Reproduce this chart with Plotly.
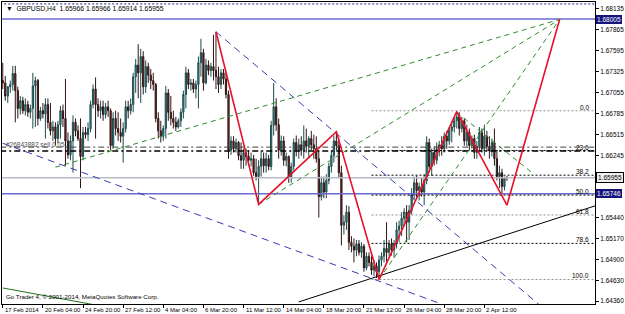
import plotly.graph_objects as go

# ---------------- data ----------------
bars = list(range(202))

opens = [
 1.6721, 1.6718, 1.6701, 1.6713, 1.6716, 1.6730, 1.6708, 1.6685, 1.6695, 1.6682,
 1.6690, 1.6680, 1.6685, 1.6714, 1.6721, 1.6672, 1.6682, 1.6678, 1.6690, 1.6667,
 1.6656, 1.6661, 1.6646, 1.6664, 1.6682, 1.6672, 1.6643, 1.6625, 1.6643, 1.6667,
 1.6656, 1.6646, 1.6623, 1.6654, 1.6651, 1.6659, 1.6690, 1.6710, 1.6690, 1.6682,
 1.6687, 1.6677, 1.6687, 1.6682, 1.6637, 1.6672, 1.6659, 1.6654, 1.6649, 1.6659,
 1.6687, 1.6682, 1.6690, 1.6726, 1.6741, 1.6731, 1.6752, 1.6713, 1.6739, 1.6728,
 1.6721, 1.6716, 1.6672, 1.6656, 1.6649, 1.6659, 1.6705, 1.6680, 1.6672, 1.6667,
 1.6661, 1.6669, 1.6680, 1.6703, 1.6731, 1.6716, 1.6718, 1.6710, 1.6716, 1.6744,
 1.6757, 1.6718, 1.6741, 1.6734, 1.6739, 1.6734, 1.6726, 1.6716, 1.6731, 1.6723,
 1.6703, 1.6631, 1.6643, 1.6633, 1.6641, 1.6624, 1.6618, 1.6628, 1.6623, 1.6618,
 1.6620, 1.6602, 1.6597, 1.6610, 1.6620, 1.6611, 1.6620, 1.6610, 1.6663, 1.6687,
 1.6664, 1.6631, 1.6643, 1.6618, 1.6623, 1.6597, 1.6610, 1.6641, 1.6631, 1.6638,
 1.6631, 1.6643, 1.6636, 1.6646, 1.6638, 1.6633, 1.6620, 1.6571, 1.6589, 1.6577,
 1.6592, 1.6610, 1.6624, 1.6643, 1.6637, 1.6602, 1.6534, 1.6538, 1.6551, 1.6512,
 1.6507, 1.6502, 1.6510, 1.6499, 1.6507, 1.6479, 1.6494, 1.6486, 1.6476, 1.6481,
 1.6474, 1.6489, 1.6494, 1.6504, 1.6499, 1.6510, 1.6502, 1.6510, 1.6528, 1.6533,
 1.6543, 1.6551, 1.6538, 1.6553, 1.6574, 1.6589, 1.6579, 1.6584, 1.6577, 1.6592,
 1.6641, 1.6610, 1.6628, 1.6618, 1.6633, 1.6638, 1.6633, 1.6649, 1.6643, 1.6656,
 1.6661, 1.6669, 1.6674, 1.6659, 1.6669, 1.6643, 1.6654, 1.6637, 1.6646, 1.6628,
 1.6636, 1.6654, 1.6633, 1.6649, 1.6636, 1.6631, 1.6641, 1.6620, 1.6597, 1.6602,
 1.6584, 1.65966]

highs = [
 1.6744, 1.6727, 1.6714, 1.6721, 1.6740, 1.6740, 1.6713, 1.6701, 1.6700, 1.6698,
 1.6695, 1.6690, 1.6731, 1.6726, 1.6723, 1.6687, 1.6692, 1.6698, 1.6698, 1.6692,
 1.6669, 1.6667, 1.6669, 1.6688, 1.6690, 1.6723, 1.6654, 1.6650, 1.6676, 1.6672,
 1.6663, 1.6672, 1.6661, 1.6661, 1.6667, 1.6695, 1.6716, 1.6725, 1.6698, 1.6695,
 1.6695, 1.6692, 1.6695, 1.6685, 1.6680, 1.6682, 1.6680, 1.6672, 1.6667, 1.6695,
 1.6695, 1.6698, 1.6731, 1.6749, 1.6768, 1.6762, 1.6759, 1.6747, 1.6744, 1.6736,
 1.6731, 1.6718, 1.6680, 1.6669, 1.6663, 1.6714, 1.6710, 1.6701, 1.6682, 1.6674,
 1.6672, 1.6685, 1.6708, 1.6739, 1.6736, 1.6723, 1.6723, 1.6721, 1.6752, 1.6775,
 1.6762, 1.6749, 1.6747, 1.6744, 1.6780, 1.6784, 1.6739, 1.6736, 1.6736, 1.6731,
 1.6708, 1.6649, 1.6649, 1.6646, 1.6643, 1.6641, 1.6633, 1.6633, 1.6631, 1.6628,
 1.6625, 1.6620, 1.6618, 1.6631, 1.6628, 1.6628, 1.6625, 1.6669, 1.6718, 1.6698,
 1.6672, 1.6650, 1.6649, 1.6628, 1.6624, 1.6615, 1.6646, 1.6650, 1.6646, 1.6649,
 1.6663, 1.6659, 1.6649, 1.6656, 1.6651, 1.6649, 1.6631, 1.6597, 1.6597, 1.6600,
 1.6615, 1.6631, 1.6650, 1.6655, 1.6646, 1.6611, 1.6547, 1.6560, 1.6559, 1.6520,
 1.6517, 1.6515, 1.6515, 1.6512, 1.6510, 1.6499, 1.6499, 1.6494, 1.6489, 1.6486,
 1.6495, 1.6499, 1.6515, 1.6538, 1.6515, 1.6517, 1.6515, 1.6538, 1.6540, 1.6551,
 1.6556, 1.6560, 1.6560, 1.6582, 1.6597, 1.6598, 1.6589, 1.6595, 1.6600, 1.6649,
 1.6646, 1.6633, 1.6636, 1.6641, 1.6643, 1.6649, 1.6654, 1.6656, 1.6661, 1.6669,
 1.6674, 1.6681, 1.6680, 1.6674, 1.6672, 1.6664, 1.6659, 1.6650, 1.6651, 1.6643,
 1.6661, 1.6659, 1.6664, 1.6656, 1.6649, 1.6646, 1.6659, 1.6631, 1.6611, 1.6607,
 1.6597, 1.65966]

lows = [
 1.6710, 1.6695, 1.6692, 1.6705, 1.6708, 1.6667, 1.6672, 1.6677, 1.6678, 1.6676,
 1.6674, 1.6672, 1.6659, 1.6661, 1.6663, 1.6669, 1.6672, 1.6646, 1.6659, 1.6650,
 1.6643, 1.6637, 1.6640, 1.6646, 1.6661, 1.6611, 1.6620, 1.6618, 1.6602, 1.6649,
 1.6643, 1.6582, 1.6618, 1.6646, 1.6643, 1.6654, 1.6685, 1.6646, 1.6674, 1.6672,
 1.6669, 1.6672, 1.6674, 1.6631, 1.6633, 1.6650, 1.6643, 1.6641, 1.6615, 1.6654,
 1.6672, 1.6677, 1.6680, 1.6705, 1.6698, 1.6692, 1.6703, 1.6705, 1.6718, 1.6710,
 1.6708, 1.6667, 1.6646, 1.6641, 1.6643, 1.6646, 1.6669, 1.6663, 1.6659, 1.6656,
 1.6659, 1.6661, 1.6672, 1.6685, 1.6710, 1.6708, 1.6705, 1.6698, 1.6685, 1.6726,
 1.6708, 1.6716, 1.6728, 1.6726, 1.6721, 1.6710, 1.6705, 1.6710, 1.6716, 1.6698,
 1.6620, 1.6625, 1.6628, 1.6628, 1.6618, 1.6607, 1.6607, 1.6611, 1.6611, 1.6610,
 1.6598, 1.6592, 1.6561, 1.6597, 1.6602, 1.6602, 1.6605, 1.6605, 1.6650, 1.6656,
 1.6620, 1.6624, 1.6611, 1.6610, 1.6589, 1.6589, 1.6605, 1.6623, 1.6620, 1.6624,
 1.6620, 1.6628, 1.6620, 1.6631, 1.6620, 1.6615, 1.6544, 1.6566, 1.6569, 1.6569,
 1.6587, 1.6602, 1.6615, 1.6631, 1.6595, 1.6508, 1.6522, 1.6528, 1.6502, 1.6499,
 1.6486, 1.6494, 1.6495, 1.6492, 1.6474, 1.6476, 1.6481, 1.6470, 1.6468, 1.6466,
 1.6464, 1.6481, 1.6486, 1.6486, 1.6494, 1.6495, 1.6492, 1.6504, 1.6512, 1.6520,
 1.6533, 1.6512, 1.6515, 1.6548, 1.6566, 1.6569, 1.6566, 1.6571, 1.6560, 1.6587,
 1.6602, 1.6598, 1.6611, 1.6613, 1.6623, 1.6624, 1.6628, 1.6633, 1.6638, 1.6641,
 1.6654, 1.6659, 1.6650, 1.6654, 1.6637, 1.6636, 1.6631, 1.6633, 1.6620, 1.6620,
 1.6631, 1.6628, 1.6624, 1.6631, 1.6620, 1.6623, 1.6611, 1.6592, 1.6582, 1.6575,
 1.6579, 1.65914]

closes = [
 1.6718, 1.6701, 1.6713, 1.6716, 1.6730, 1.6708, 1.6685, 1.6695, 1.6682, 1.6690,
 1.6680, 1.6685, 1.6714, 1.6721, 1.6672, 1.6682, 1.6678, 1.6690, 1.6667, 1.6656,
 1.6661, 1.6646, 1.6664, 1.6682, 1.6672, 1.6643, 1.6625, 1.6643, 1.6667, 1.6656,
 1.6646, 1.6623, 1.6654, 1.6651, 1.6659, 1.6690, 1.6710, 1.6690, 1.6682, 1.6687,
 1.6677, 1.6687, 1.6682, 1.6637, 1.6672, 1.6659, 1.6654, 1.6649, 1.6659, 1.6687,
 1.6682, 1.6690, 1.6726, 1.6741, 1.6731, 1.6752, 1.6713, 1.6739, 1.6728, 1.6721,
 1.6716, 1.6672, 1.6656, 1.6649, 1.6659, 1.6705, 1.6680, 1.6672, 1.6667, 1.6661,
 1.6669, 1.6680, 1.6703, 1.6731, 1.6716, 1.6718, 1.6710, 1.6716, 1.6744, 1.6757,
 1.6718, 1.6741, 1.6734, 1.6739, 1.6734, 1.6726, 1.6716, 1.6731, 1.6723, 1.6703,
 1.6631, 1.6643, 1.6633, 1.6641, 1.6624, 1.6618, 1.6628, 1.6623, 1.6618, 1.6620,
 1.6602, 1.6597, 1.6610, 1.6620, 1.6611, 1.6620, 1.6610, 1.6663, 1.6687, 1.6664,
 1.6631, 1.6643, 1.6618, 1.6623, 1.6597, 1.6610, 1.6641, 1.6631, 1.6638, 1.6631,
 1.6643, 1.6636, 1.6646, 1.6638, 1.6633, 1.6620, 1.6571, 1.6589, 1.6577, 1.6592,
 1.6610, 1.6624, 1.6643, 1.6637, 1.6602, 1.6534, 1.6538, 1.6551, 1.6512, 1.6507,
 1.6502, 1.6510, 1.6499, 1.6507, 1.6479, 1.6494, 1.6486, 1.6476, 1.6481, 1.6474,
 1.6489, 1.6494, 1.6504, 1.6499, 1.6510, 1.6502, 1.6510, 1.6528, 1.6533, 1.6543,
 1.6551, 1.6538, 1.6553, 1.6574, 1.6589, 1.6579, 1.6584, 1.6577, 1.6592, 1.6641,
 1.6610, 1.6628, 1.6618, 1.6633, 1.6638, 1.6633, 1.6649, 1.6643, 1.6656, 1.6661,
 1.6669, 1.6674, 1.6659, 1.6669, 1.6643, 1.6654, 1.6637, 1.6646, 1.6628, 1.6636,
 1.6654, 1.6633, 1.6649, 1.6636, 1.6631, 1.6641, 1.6620, 1.6597, 1.6602, 1.6584,
 1.6595, 1.65955]

tick_bars = [0, 16, 32, 48, 64, 80, 96, 112, 128, 144, 160, 176, 192]
tick_text = ["17 Feb 2014", "20 Feb 04:00", "24 Feb 20:00", "27 Feb 12:00",
             "4 Mar 04:00", "6 Mar 20:00", "11 Mar 12:00", "14 Mar 04:00",
             "18 Mar 20:00", "21 Mar 12:00", "26 Mar 04:00", "28 Mar 20:00",
             "2 Apr 12:00"]

price_ticks = [1.68135, 1.67865, 1.67595, 1.67325, 1.67055, 1.66785, 1.66515,
               1.66245, 1.65440, 1.65170, 1.64900, 1.64630, 1.64360]

# harmonic zigzag (bar, price)
zz_bars = [85, 102, 133, 150, 181, 201, 222]
zz_prices = [1.6784, 1.6561, 1.6655, 1.6464, 1.6681, 1.6560, 1.6800]

# trend lines: (bars, prices)
blue_line1 = ([85, 214], [1.6784, 1.6431])
blue_line2 = ([0, 176], [1.6640, 1.6431])
green_line1 = ([21, 222], [1.6609, 1.6800])
green_line2 = ([102, 222], [1.6561, 1.6800])
green_line3 = ([150, 222], [1.6464, 1.6800])
green_line4 = ([181, 211], [1.6680, 1.6602])
fib_diag = ([150, 181], [1.6464, 1.6682])
black_line = ([118, 237], [1.6435, 1.6560])
dkgreen_line = ([0, 37], [1.6453, 1.6431])

# horizontal levels
top_dotted = 1.6820
blue_level_hi = 1.68005
blue_level_lo = 1.65746
bid_level = 1.65955
order_level1 = 1.6635
order_level2 = 1.6630

fib_high = 1.6682
fib_low = 1.6464
fib_levels = [0.0, 23.6, 38.2, 50.0, 61.8, 78.6, 100.0]
fib_start = 147

# ---------------- figure ----------------
FONT = "Liberation Sans"
FS = 6.5
X_MAX = 236.1

fig = go.Figure()

fig.add_trace(go.Candlestick(
    x=bars, open=opens, high=highs, low=lows, close=closes,
    increasing=dict(line=dict(color="#1f4a4a", width=1), fillcolor="#2a9d9d"),
    decreasing=dict(line=dict(color="#301414", width=1), fillcolor="#7a2b2b"),
    whiskerwidth=0, hoverinfo="skip", showlegend=False))


def hline(price, color, dash, width=1, x0=-1, x1=X_MAX + 1):
    fig.add_trace(go.Scatter(x=[x0, x1], y=[price, price], mode="lines",
                             line=dict(color=color, width=width, dash=dash),
                             hoverinfo="skip", showlegend=False))


def seg(pts, color, dash, width=1):
    fig.add_trace(go.Scatter(x=pts[0], y=pts[1], mode="lines",
                             line=dict(color=color, width=width, dash=dash),
                             hoverinfo="skip", showlegend=False))


hline(top_dotted, "#1a1a80", "2px,2px")
hline(blue_level_hi, "#6a6ad0", "solid", 1.5)
hline(blue_level_lo, "#6a6ad0", "solid", 1.5)
hline(bid_level, "#b8bcc8", "solid", 1.5)
hline(order_level1, "#404040", "6px,3px,2px,3px", 1)
hline(order_level2, "#000000", "6px,3px,2px,3px", 1.5)

fib_colors = ["#909090", "#000000", "#000000", "#000000", "#909090", "#000000", "#909090"]
for lvl, col in zip(fib_levels, fib_colors):
    p = fib_high - (fib_high - fib_low) * lvl / 100.0
    hline(p, col, "2px,2px", 1, fib_start, X_MAX + 1)

seg(blue_line1, "#3a3ab0", "7px,5px")
seg(blue_line2, "#3a3ab0", "7px,5px")
seg(green_line1, "#2e8b2e", "5px,4px")
seg(green_line2, "#2e8b2e", "5px,4px")
seg(green_line3, "#2e8b2e", "5px,4px")
seg(green_line4, "#2e8b2e", "5px,4px")
seg(fib_diag, "#a8e040", "2px,2px")
seg(black_line, "#000000", "solid")
seg(dkgreen_line, "#207020", "solid")

fig.add_trace(go.Scatter(x=zz_bars, y=zz_prices, mode="lines",
                         line=dict(color="#e8102a", width=1.6),
                         hoverinfo="skip", showlegend=False))

annotations = []
# x-axis labels, left aligned at ticks like MT4
for b, t in zip(tick_bars, tick_text):
    annotations.append(dict(x=b, xref="x", y=0, yref="paper", yanchor="top",
                            xanchor="left", text=t, showarrow=False,
                            xshift=0, yshift=-1,
                            font=dict(family=FONT, size=6.0, color="#000000")))

# fib labels
for lvl in fib_levels:
    p = fib_high - (fib_high - fib_low) * lvl / 100.0
    annotations.append(dict(x=1, xref="paper", y=p, yref="y", xanchor="right",
                            yanchor="bottom", text=f"{lvl:.1f}", showarrow=False,
                            xshift=-4, yshift=-2,
                            font=dict(family=FONT, size=FS, color="#000000")))

# highlighted price labels on the axis
for p, bg, fg in [(blue_level_hi, "#14147a", "#ffffff"),
                  (blue_level_lo, "#14147a", "#ffffff"),
                  (bid_level, "#f0f0f0", "#000000")]:
    annotations.append(dict(x=1, xref="paper", y=p, yref="y", xanchor="left",
                            yanchor="middle", text=f"{p:.5f}", showarrow=False,
                            xshift=1, bgcolor=bg, bordercolor="#000000",
                            borderwidth=1 if bg == "#f0f0f0" else 0, borderpad=1,
                            font=dict(family=FONT, size=FS, color=fg)))

# header / info texts
annotations.append(dict(x=0.004, xref="paper", y=0.997, yref="paper",
                        xanchor="left", yanchor="top",
                        text="\u25bc  GBPUSD,H4  1.65966 1.65966 1.65914 1.65955",
                        showarrow=False,
                        font=dict(family=FONT, size=FS + 0.3, color="#000000")))
annotations.append(dict(x=0.004, xref="paper", y=1.6639, yref="y",
                        xanchor="left", yanchor="middle",
                        text="#26843882 sell 0.05", showarrow=False,
                        font=dict(family=FONT, size=FS, color="#505050")))
annotations.append(dict(x=0.004, xref="paper", y=0.005, yref="paper",
                        xanchor="left", yanchor="bottom",
                        text="Go Trader 4, \u00a9 2001-2014, MetaQuotes Software Corp.",
                        showarrow=False,
                        font=dict(family=FONT, size=FS - 0.3, color="#000000")))

fig.update_layout(
    width=625, height=314,
    margin=dict(l=2, r=28, t=1, b=10),
    paper_bgcolor="#ffffff", plot_bgcolor="#ffffff",
    showlegend=False, hovermode=False,
    font=dict(family=FONT, size=FS, color="#000000"),
    annotations=annotations,
    xaxis=dict(range=[-0.3, X_MAX], showgrid=False, zeroline=False,
               tickvals=tick_bars, ticks="outside", ticklen=3,
               tickcolor="#000000", showticklabels=False,
               showline=True, linecolor="#000000", linewidth=1, mirror=True,
               rangeslider=dict(visible=False), fixedrange=True),
    yaxis=dict(range=[1.64323, 1.68225], side="right", showgrid=False,
               zeroline=False, tickvals=price_ticks,
               ticktext=[f"{v:.5f}" for v in price_ticks],
               ticks="outside", ticklen=3, tickcolor="#000000",
               tickfont=dict(family=FONT, size=FS, color="#000000"),
               showline=True, linecolor="#000000", linewidth=1, mirror=True,
               fixedrange=True),
)

fig.write_html("out.html")
